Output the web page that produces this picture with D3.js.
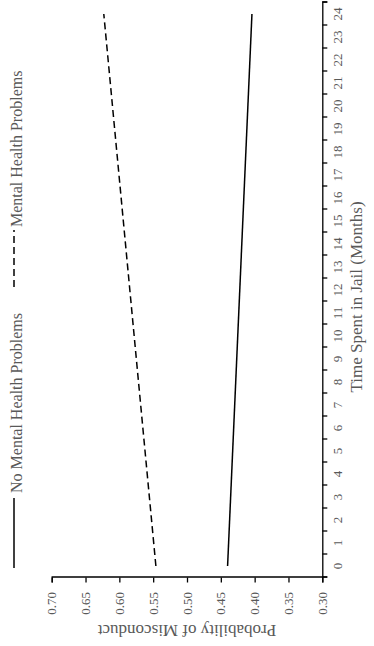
<!DOCTYPE html>
<html>
<head>
<meta charset="utf-8">
<script src="https://cdn.jsdelivr.net/npm/d3@7"></script>
<style>
  html, body { margin: 0; padding: 0; background: #fff; }
  svg { display: block; }
  text { font-family: "Liberation Serif", "Times New Roman", serif; }
</style>
</head>
<body>
<script>
// Months on the category axis
const months = [0, 1, 2, 3, 4, 5, 6, 7, 8, 9, 10, 11, 12, 13, 14, 15, 16, 17, 18, 19, 20, 21, 22, 23, 24];
// Probability axis ticks
const probTicks = [0.30, 0.35, 0.40, 0.45, 0.50, 0.55, 0.60, 0.65, 0.70];
// Predicted probability of misconduct at the first and last month
const lineMonths = [0, 24];
const noMentalHealth = [0.440, 0.404];
const mentalHealth = [0.546, 0.623];
const seriesNames = ["No Mental Health Problems", "Mental Health Problems"];

const W = 374, H = 646;
const textColor = "#595959";

const svg = d3.select("body").append("svg")
  .attr("width", W).attr("height", H);

// The chart is laid out landscape (H wide, W tall) and turned a quarter-turn counter-clockwise
const g = svg.append("g").attr("transform", `translate(0,${H}) rotate(-90)`);

const x = d3.scaleBand().domain(months).range([68.5, 643.5]).padding(0);
const xEdges = d3.scaleLinear().domain([0, months.length]).range([68.5, 643.5]);
const y = d3.scaleLinear().domain([0.30, 0.70]).range([322.3, 51.7]);
const axisY = 322.3;
const axisX = 68.5;

// Category axis: tick marks on band edges, labels at band centres
g.append("g")
  .attr("transform", `translate(0,${axisY})`)
  .call(d3.axisBottom(xEdges).tickValues(d3.range(0, months.length + 1)).tickSize(5).tickFormat(""))
  .call(a => a.selectAll("path, line").attr("stroke", "#000").attr("stroke-width", 1.3));

g.append("g")
  .attr("transform", `translate(0,${axisY})`)
  .call(d3.axisBottom(x).tickSize(0).tickPadding(10.5))
  .call(a => a.select(".domain").remove())
  .call(a => a.selectAll("text")
    .attr("fill", textColor)
    .style("font-family", '"Liberation Serif", "Times New Roman", serif')
    .style("font-size", "13px"));

// Probability axis
g.append("g")
  .attr("transform", `translate(${axisX},0)`)
  .call(d3.axisLeft(y).tickValues(probTicks).tickSize(5).tickPadding(9.5).tickFormat(d3.format(".2f")))
  .call(a => a.selectAll("path, line").attr("stroke", "#000").attr("stroke-width", 1.3))
  .call(a => a.selectAll("text")
    .attr("fill", textColor)
    .style("font-family", '"Liberation Serif", "Times New Roman", serif')
    .style("font-size", "13px"));

// Series lines
const line = d3.line()
  .x(d => x(d.m) + x.bandwidth() / 2)
  .y(d => y(d.p));

const series = [
  { name: seriesNames[0], values: lineMonths.map((m, i) => ({ m, p: noMentalHealth[i] })), dash: null },
  { name: seriesNames[1], values: lineMonths.map((m, i) => ({ m, p: mentalHealth[i] })), dash: "7,4" }
];

g.selectAll(".series")
  .data(series)
  .join("path")
  .attr("class", "series")
  .attr("d", d => line(d.values))
  .attr("fill", "none")
  .attr("stroke", "#000")
  .attr("stroke-width", 1.5)
  .attr("stroke-dasharray", d => d.dash);

// Axis titles
g.append("text")
  .attr("x", 349)
  .attr("y", 362)
  .attr("text-anchor", "middle")
  .attr("fill", textColor)
  .style("font-size", "17px")
  .text("Time Spent in Jail (Months)");

g.append("text")
  .attr("transform", `translate(21,${(y(0.30) + y(0.70)) / 2}) rotate(-90)`)
  .attr("text-anchor", "middle")
  .attr("fill", textColor)
  .style("font-size", "17px")
  .text("Probability of Misconduct");

// Legend
const legendItems = [
  { name: seriesNames[0], dash: null, x0: 78, x1: 148, tx: 153 },
  { name: seriesNames[1], dash: "7,4", x0: 359, x1: 416, tx: 419 }
];
const lg = g.append("g");
legendItems.forEach(d => {
  lg.append("line")
    .attr("x1", d.x0).attr("x2", d.x1)
    .attr("y1", 14).attr("y2", 14)
    .attr("stroke", "#000").attr("stroke-width", 1.5)
    .attr("stroke-dasharray", d.dash);
  lg.append("text")
    .attr("x", d.tx).attr("y", 21.5)
    .attr("fill", textColor)
    .style("font-size", "16px")
    .text(d.name);
});
</script>
</body>
</html>
